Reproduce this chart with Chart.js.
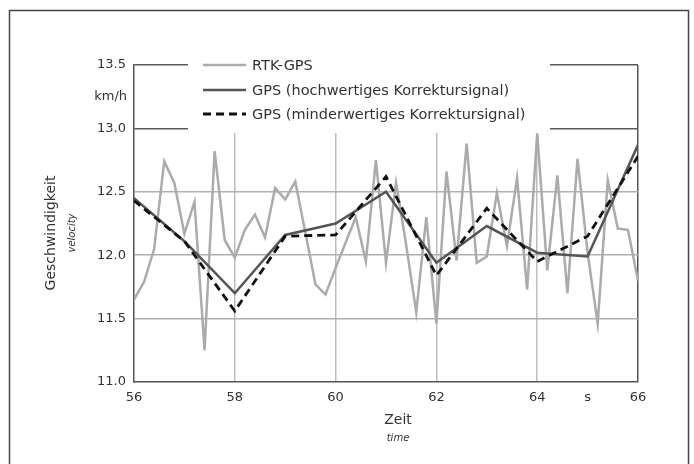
<!DOCTYPE html>
<html>
<head>
<meta charset="utf-8">
<script src="https://cdn.jsdelivr.net/npm/chart.js@4.4.1/dist/chart.umd.min.js"></script>
<style>
  html, body { margin: 0; padding: 0; background: #fff; }
  #wrap { width: 694px; height: 464px; position: relative; }
</style>
</head>
<body>
<div id="wrap"><canvas id="chart"></canvas></div>
<script>
// RTK-GPS reference, sampled every 0.2 s
const rtkTime = [56.0, 56.2, 56.4, 56.6, 56.8, 57.0, 57.2, 57.4, 57.6, 57.8,
  58.0, 58.2, 58.4, 58.6, 58.8, 59.0, 59.2, 59.4, 59.6, 59.8,
  60.0, 60.2, 60.4, 60.6, 60.8, 61.0, 61.2, 61.4, 61.6, 61.8,
  62.0, 62.2, 62.4, 62.6, 62.8, 63.0, 63.2, 63.4, 63.6, 63.8,
  64.0, 64.2, 64.4, 64.6, 64.8, 65.0, 65.2, 65.4, 65.6, 65.8, 66.0]
const rtkSpeed = [11.65, 11.79, 12.05, 12.74, 12.57, 12.17, 12.42, 11.25, 12.82, 12.12,
  11.98, 12.20, 12.32, 12.14, 12.53, 12.44, 12.58, 12.18, 11.77, 11.69,
  11.90, 12.10, 12.30, 11.95, 12.75, 11.94, 12.57, 12.08, 11.55, 12.30,
  11.46, 12.66, 11.96, 12.88, 11.94, 11.99, 12.49, 12.07, 12.61, 11.73,
  12.96, 11.88, 12.63, 11.70, 12.76, 12.02, 11.46, 12.59, 12.21, 12.20, 11.80]

// GPS, one value per second
const gpsTime = [56, 57, 58, 59, 60, 61, 62, 63, 64, 65, 66]
const gpsHigh = [12.45, 12.11, 11.70, 12.16, 12.25, 12.50, 11.94, 12.23, 12.02, 11.99, 12.87]
const gpsLow  = [12.43, 12.11, 11.56, 12.15, 12.16, 12.62, 11.84, 12.37, 11.95, 12.15, 12.78]

const seriesLabels = ['RTK-GPS', 'GPS (hochwertiges Korrektursignal)', 'GPS (minderwertiges Korrektursignal)']
const xTickLabels = { 56: '56', 58: '58', 60: '60', 62: '62', 64: '64', 65: 's', 66: '66' }

const FONT = '"DejaVu Sans", sans-serif'
const TXT = '#333'

const toXY = (xs, ys) => xs.map((x, i) => ({ x: x, y: ys[i] }))

// white box behind the legend, then legend, frame and titles on top
const decor = {
  id: 'decor',
  beforeDatasetsDraw(chart) {
    const c = chart.ctx
    c.save()
    c.fillStyle = '#fff'
    c.fillRect(188, 50, 362, 83)
    c.restore()
  },
  afterDraw(chart) {
    const c = chart.ctx
    c.save()
    // outer frame
    c.strokeStyle = '#444'
    c.lineWidth = 1.5
    c.strokeRect(9.5, 10.5, 679, 470)

    // legend
    const rows = [65, 90, 114]
    chart.data.datasets.forEach((ds, i) => {
      c.beginPath()
      c.strokeStyle = ds.borderColor
      c.lineWidth = ds.borderWidth
      c.setLineDash(ds.borderDash || [])
      c.moveTo(203, rows[i])
      c.lineTo(246, rows[i])
      c.stroke()
      c.setLineDash([])
      c.fillStyle = TXT
      c.font = '14.5px ' + FONT
      c.textAlign = 'left'
      c.textBaseline = 'middle'
      c.fillText(seriesLabels[i], 252, rows[i] + 1)
    })

    // unit
    c.fillStyle = TXT
    c.font = '13px ' + FONT
    c.textAlign = 'right'
    c.textBaseline = 'middle'
    c.fillText('km/h', 127, 97)

    // axis titles
    c.textAlign = 'center'
    c.font = '14px ' + FONT
    c.fillText('Zeit', 398, 420)
    c.font = 'italic 10px ' + FONT
    c.fillText('time', 398, 438)

    c.translate(51, 233)
    c.rotate(-Math.PI / 2)
    c.font = '14px ' + FONT
    c.fillText('Geschwindigkeit', 0, 0)
    c.font = 'italic 10px ' + FONT
    c.fillText('velocity', 0, 21)
    c.restore()
  }
}

new Chart(document.getElementById('chart'), {
  type: 'line',
  data: {
    datasets: [
      {
        label: seriesLabels[0],
        data: toXY(rtkTime, rtkSpeed),
        borderColor: '#ababab',
        borderWidth: 2.5,
        pointRadius: 0,
        tension: 0,
        order: 3,
      },
      {
        label: seriesLabels[1],
        data: toXY(gpsTime, gpsHigh),
        borderColor: '#555555',
        borderWidth: 2.5,
        pointRadius: 0,
        tension: 0,
        order: 2,
      },
      {
        label: seriesLabels[2],
        data: toXY(gpsTime, gpsLow),
        borderColor: '#111111',
        borderWidth: 2.8,
        borderDash: [8, 5],
        pointRadius: 0,
        tension: 0,
        order: 1,
      },
    ],
  },
  options: {
    responsive: true,
    maintainAspectRatio: false,
    animation: false,
    events: [],
    layout: { padding: { top: 65, right: 56, left: 0, bottom: 0 } },
    plugins: {
      legend: { display: false },
      tooltip: { enabled: false },
    },
    scales: {
      x: {
        type: 'linear',
        min: 56,
        max: 66,
        afterFit: (s) => { s.height = 82 },
        ticks: {
          stepSize: 1,
          autoSkip: false,
          maxRotation: 0,
          padding: 8,
          color: TXT,
          font: { family: FONT, size: 13 },
          callback: (v) => xTickLabels[v] || '',
        },
        grid: {
          drawTicks: false,
          lineWidth: 1.5,
          color: (ctx) => {
            const v = ctx.tick && ctx.tick.value
            if (v === 66) return '#555'
            if (v % 2 === 0 && v !== 56) return '#bdbdbd'
            return 'rgba(0,0,0,0)'
          },
        },
        border: { color: '#555', width: 1.5 },
      },
      y: {
        min: 11.0,
        max: 13.5,
        afterFit: (s) => { s.width = 134 },
        ticks: {
          stepSize: 0.5,
          padding: 8,
          color: TXT,
          font: { family: FONT, size: 13 },
          callback: (v) => v.toFixed(1),
        },
        grid: {
          drawTicks: false,
          lineWidth: 1.5,
          color: (ctx) => {
            const v = ctx.tick && ctx.tick.value
            if (v >= 13) return '#5a5a5a'
            if (v === 11) return 'rgba(0,0,0,0)'
            return '#b0b0b0'
          },
        },
        border: { color: '#555', width: 1.5 },
      },
    },
  },
  plugins: [decor],
})
</script>
</body>
</html>
